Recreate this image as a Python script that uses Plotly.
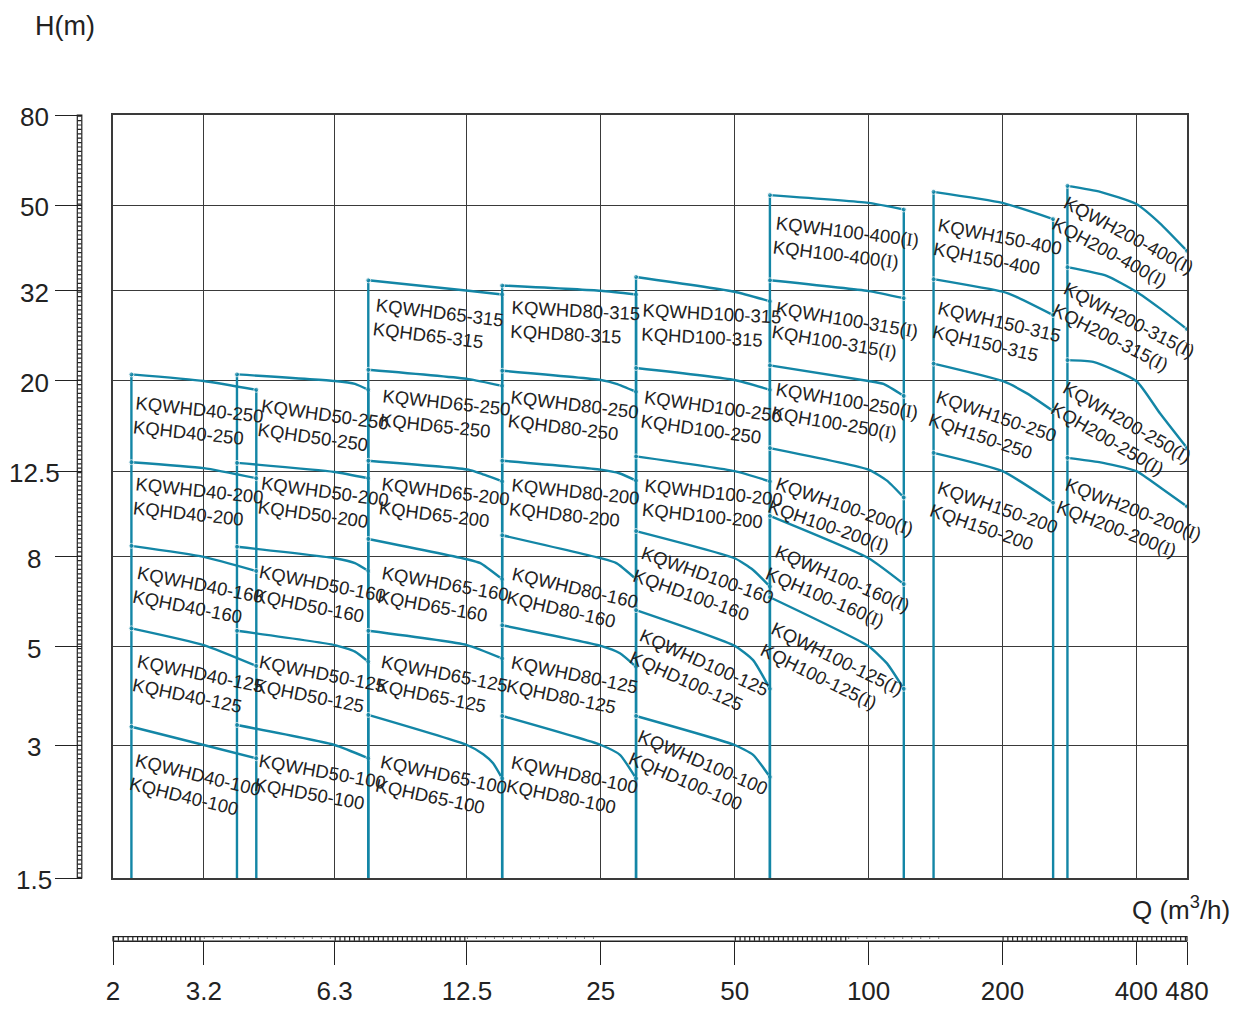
import math
import plotly.graph_objects as go

# ---------------- axis values ----------------
Q_MIN, Q_MAX = 2, 520          # right edge of the chart (labelled 480 on the reference)
H_MIN, H_MAX = 1.5, 80
Q_GRID = [3.2, 6.3, 12.5, 25, 50, 100, 200, 400]
H_GRID = [3, 5, 8, 12.5, 20, 32, 50]
Q_TICKS = [2, 3.2, 6.3, 12.5, 25, 50, 100, 200, 400, 520]
Q_TICKTEXT = ["2", "3.2", "6.3", "12.5", "25", "50", "100", "200", "400", "480"]
H_TICKS = [1.5, 3, 5, 8, 12.5, 20, 32, 50, 80]
H_TICKTEXT = ["1.5", "3", "5", "8", "12.5", "20", "32", "50", "80"]

# ---------------- performance curves (Q m3/h, H m) ----------------
# KQ(W)HD40
KQ40_250 = [(2.2, 20.7), (3.2, 20.0), (4.2, 19.1)]
KQ40_200 = [(2.2, 13.1), (3.2, 12.7), (4.2, 12.05)]
KQ40_160 = [(2.2, 8.47), (3.2, 8.0), (4.2, 7.43)]
KQ40_125 = [(2.2, 5.51), (3.2, 5.05), (4.2, 4.53)]
KQ40_100 = [(2.2, 3.30), (3.2, 3.0), (4.2, 2.80)]
# KQ(W)HD50
KQ50_250 = [(3.8, 20.7), (6.3, 20.0), (7.0, 19.7), (7.5, 19.1)]
KQ50_200 = [(3.8, 13.05), (6.3, 12.45), (7.5, 12.05)]
KQ50_160 = [(3.8, 8.43), (6.3, 7.94), (7.0, 7.74), (7.5, 7.43)]
KQ50_125 = [(3.8, 5.44), (6.3, 5.05), (7.0, 4.88), (7.5, 4.63)]
KQ50_100 = [(3.8, 3.33), (6.3, 3.0), (7.5, 2.80)]
# KQ(W)HD65
KQ65_315 = [(7.5, 33.8), (12.6, 32.0), (15, 31.4)]
KQ65_250 = [(7.5, 21.2), (12.6, 20.2), (15, 19.5)]
KQ65_200 = [(7.5, 13.2), (12.6, 12.6), (13.4, 12.35), (15, 11.85)]
KQ65_160 = [(7.5, 8.78), (12.5, 7.9), (13.4, 7.74), (15, 7.12)]
KQ65_125 = [(7.5, 5.44), (12.5, 5.05), (15, 4.71)]
KQ65_100 = [(7.5, 3.51), (12.5, 3.0), (13.6, 2.86), (14.3, 2.73), (15, 2.52)]
# KQ(W)HD80
KQ80_315 = [(15, 32.9), (25, 32.0), (30, 31.4)]
KQ80_250 = [(15, 21.1), (25, 20.1), (27.1, 19.7), (30, 18.9)]
KQ80_200 = [(15, 13.2), (25, 12.6), (27.6, 12.35), (30, 11.9)]
KQ80_160 = [(15, 8.95), (25, 7.94), (27.1, 7.74), (30, 7.12)]
KQ80_125 = [(15, 5.6), (25, 5.03), (27.6, 4.84), (30, 4.51)]
KQ80_100 = [(15, 3.49), (25, 3.0), (27.6, 2.85), (30, 2.52)]
# KQ(W)HD100
KQ100D_315 = [(30, 34.4), (50, 31.85), (60, 30.3)]
KQ100D_250 = [(30, 21.4), (50, 20.1), (60, 19.1)]
KQ100D_200 = [(30, 13.5), (50, 12.5), (60, 11.85)]
KQ100D_160 = [(30, 9.15), (50, 7.94), (55, 7.47), (60, 6.85)]
KQ100D_125 = [(30, 6.06), (50, 5.03), (55, 4.67), (60, 4.02)]
KQ100D_100 = [(30, 3.49), (50, 3.0), (55, 2.85), (60, 2.54)]
# KQ(W)H100 (I)
KQ100_400 = [(60, 52.7), (100, 50.6), (120, 48.9)]
KQ100_315 = [(60, 33.8), (100, 31.95), (120, 30.8)]
KQ100_250 = [(60, 21.7), (100, 20.0), (108, 19.7), (120, 18.5)]
KQ100_200 = [(60, 14.1), (100, 12.6), (110, 11.9), (120, 10.9)]
KQ100_160 = [(60, 9.9), (100, 7.94), (120, 6.94)]
KQ100_125 = [(60, 6.48), (100, 5.02), (110, 4.59), (120, 4.02)]
# KQ(W)H150
KQ150_400 = [(140, 53.6), (200, 50.6), (260, 46.5)]
KQ150_315 = [(140, 34.0), (200, 31.85), (215, 31.0), (260, 28.2)]
KQ150_250 = [(140, 21.9), (200, 20.0), (227, 18.75), (260, 17.1)]
KQ150_200 = [(140, 13.75), (200, 12.5), (260, 10.6)]
# KQ(W)H200 (I)
KQ200_400 = [(280, 55.3), (332, 53.6), (400, 50.3), (452, 45.5), (520, 39.4)]
KQ200_315 = [(280, 36.2), (343, 34.6), (400, 31.85), (452, 29.2), (520, 26.2)]
KQ200_250 = [(280, 22.3), (320, 22.1), (400, 20.0), (452, 16.9), (520, 14.1)]
KQ200_200 = [(280, 13.4), (330, 13.1), (400, 12.5), (457, 11.4), (520, 10.4)]

# (size, series key, "D" model?, roman (I)?, models, curves)
FAMILIES = [
    ("40", "40", True, False, ["250", "200", "160", "125", "100"],
     [KQ40_250, KQ40_200, KQ40_160, KQ40_125, KQ40_100]),
    ("50", "50", True, False, ["250", "200", "160", "125", "100"],
     [KQ50_250, KQ50_200, KQ50_160, KQ50_125, KQ50_100]),
    ("65", "65", True, False, ["315", "250", "200", "160", "125", "100"],
     [KQ65_315, KQ65_250, KQ65_200, KQ65_160, KQ65_125, KQ65_100]),
    ("80", "80", True, False, ["315", "250", "200", "160", "125", "100"],
     [KQ80_315, KQ80_250, KQ80_200, KQ80_160, KQ80_125, KQ80_100]),
    ("100", "100D", True, False, ["315", "250", "200", "160", "125", "100"],
     [KQ100D_315, KQ100D_250, KQ100D_200, KQ100D_160, KQ100D_125, KQ100D_100]),
    ("100", "100", False, True, ["400", "315", "250", "200", "160", "125"],
     [KQ100_400, KQ100_315, KQ100_250, KQ100_200, KQ100_160, KQ100_125]),
    ("150", "150", False, False, ["400", "315", "250", "200"],
     [KQ150_400, KQ150_315, KQ150_250, KQ150_200]),
    ("200", "200", False, True, ["400", "315", "250", "200"],
     [KQ200_400, KQ200_315, KQ200_250, KQ200_200]),
]

# ---------------- label placement (style): angle deg, dx px, dy px from curve start ----------------
LABEL_STYLE = {
    ("40", "250"): (6, 5, 21), ("40", "200"): (6, 5, 14), ("40", "160"): (11, 8, 19),
    ("40", "125"): (11.5, 8, 25), ("40", "100"): (13.5, 6, 26),
    ("50", "250"): (8, 26, 24), ("50", "200"): (7.7, 26, 13), ("50", "160"): (11, 24, 17),
    ("50", "125"): (11, 24, 23), ("50", "100"): (10, 24, 28),
    ("65", "315"): (7, 9, 17), ("65", "250"): (6, 15, 18), ("65", "200"): (7, 15, 15),
    ("65", "160"): (10, 15, 26), ("65", "125"): (11, 15, 23), ("65", "100"): (12, 15, 39),
    ("80", "315"): (3, 10, 14), ("80", "250"): (7, 10, 18), ("80", "200"): (6, 10, 17),
    ("80", "160"): (13, 12, 31), ("80", "125"): (11.5, 12, 29), ("80", "100"): (11.5, 12, 38),
    ("100D", "315"): (3, 7, 25), ("100D", "250"): (8, 10, 21), ("100D", "200"): (6, 10, 21),
    ("100D", "160"): (19.5, 9, 14), ("100D", "125"): (24, 9, 17), ("100D", "100"): (23, 7, 12),
    ("100", "400"): (7, 7, 20), ("100", "315"): (9.5, 8, 20), ("100", "250"): (9.5, 8, 16),
    ("100", "200"): (19, 10, 27), ("100", "160"): (23, 10, 27), ("100", "125"): (26, 7, 23),
    ("150", "400"): (11, 7, 25), ("150", "315"): (13, 7, 21), ("150", "250"): (18.7, 7, 25),
    ("150", "200"): (19, 8, 27),
    ("200", "400"): (28, 2, 9), ("200", "315"): (27, 2, 13), ("200", "250"): (30, 2, 20),
    ("200", "200"): (21, 2, 19),
}

# ---------------- styles / geometry ----------------
TEAL = "#1386a6"
INK = "#222222"
GRID = "#3a3a3a"
FONT = "Liberation Sans, Arial, sans-serif"
LABEL_FS = 18.5
TICK_FS = 26
PAGE_OFF = 8                      # default page margin around the figure
W, HGT = 1241 - 2 * PAGE_OFF, 1013 - 2 * PAGE_OFF
# layout measured in window pixels, converted to figure pixels
RULER_L, PLOT_L, PLOT_R, PLOT_T, PLOT_B, RULER_B = 82, 113, 1187, 115, 878, 941
ML = RULER_L - PAGE_OFF
MR = W - (PLOT_R - PAGE_OFF)
MT = PLOT_T - PAGE_OFF
MB = HGT - (RULER_B - PAGE_OFF)
PW, PH = W - ML - MR, HGT - MT - MB
X_DOM0 = (PLOT_L - RULER_L) / PW
Y_DOM0 = (RULER_B - PLOT_B) / PH


def px_paper_x(px):   # window pixel -> paper fraction
    return (px - RULER_L) / PW


def px_paper_y(py):
    return (RULER_B - py) / PH


def label_text(size, is_d, roman, model):
    r = "(<span style='font-family:Liberation Serif'>I</span>)" if roman else ""
    if is_d:
        return f"KQWHD{size}-{model}{r}<br>KQHD{size}-{model}{r}"
    return f"KQWH{size}-{model}{r}<br>KQH{size}-{model}{r}"


fig = go.Figure()
annotations = []
box_h = 2.45 * LABEL_FS

for size, key, is_d, roman, models, curves in FAMILIES:
    top = curves[0]
    verts = [top[0]]
    if key != "200":
        verts.append(top[-1])
    for q, h in verts:
        fig.add_trace(go.Scatter(x=[q, q], y=[h, H_MIN], mode="lines",
                                 line=dict(color=TEAL, width=2.4),
                                 hoverinfo="skip", showlegend=False))
    for model, pts in zip(models, curves):
        qs = [p[0] for p in pts]
        hs = [p[1] for p in pts]
        sizes = [5] + [0] * (len(pts) - 2) + [5]
        fig.add_trace(go.Scatter(x=qs, y=hs, mode="lines+markers",
                                 line=dict(color=TEAL, width=2.4, shape="spline", smoothing=0.5),
                                 marker=dict(color=TEAL, size=sizes),
                                 name=f"{size}-{model}", showlegend=False))
        ang, dx, dy = LABEL_STYLE[(key, model)]
        th = math.radians(ang)
        annotations.append(dict(
            x=math.log10(qs[0]), y=math.log10(hs[0]), xref="x", yref="y",
            text=label_text(size, is_d, roman, model), showarrow=False,
            xanchor="left", yanchor="top", align="left", textangle=ang,
            xshift=dx - 1 - box_h * math.sin(th), yshift=-(dy - 4),
            borderpad=0, font=dict(family=FONT, size=LABEL_FS, color=INK)))

# dummy trace so the outer ruler axes are drawn
fig.add_trace(go.Scatter(x=[], y=[], xaxis="x2", yaxis="y2", showlegend=False))

# H tick labels (centred in the left gutter, at their axis values)
for hv, ht in zip(H_TICKS, H_TICKTEXT):
    annotations.append(dict(x=px_paper_x(34), y=math.log10(hv), xref="paper", yref="y",
                            text=ht, showarrow=False, xanchor="center", yanchor="middle",
                            yshift=-2, font=dict(family=FONT, size=TICK_FS, color=INK)))

# axis titles
annotations.append(dict(x=px_paper_x(65), y=px_paper_y(26), xref="paper", yref="paper",
                        text="H(m)", showarrow=False, xanchor="center", yanchor="middle",
                        font=dict(family=FONT, size=27, color=INK)))
annotations.append(dict(x=px_paper_x(1232), y=px_paper_y(908), xref="paper", yref="paper",
                        text="Q (m<sup>3</sup>/h)", showarrow=False, xanchor="right", yanchor="middle",
                        font=dict(family=FONT, size=26, color=INK)))


def q_to_paper(q):
    f = (math.log10(q) - math.log10(Q_MIN)) / (math.log10(Q_MAX) - math.log10(Q_MIN))
    return X_DOM0 + f * (1 - X_DOM0)


shapes = []
# left ruler (double line with rungs)
lx0, lx1 = px_paper_x(77.3), px_paper_x(81.8)
shapes.append(dict(type="rect", xref="paper", yref="paper", x0=lx0, x1=lx1, y0=Y_DOM0, y1=1,
                   line=dict(color=INK, width=1.2)))
shapes.append(dict(type="line", xref="paper", yref="paper", x0=(lx0 + lx1) / 2, x1=(lx0 + lx1) / 2,
                   y0=Y_DOM0, y1=1, line=dict(color=INK, width=4, dash="1.2px,3.2px")))
# bottom ruler
by1 = 4.3 / PH
shapes.append(dict(type="rect", xref="paper", yref="paper", x0=X_DOM0, x1=1, y0=0, y1=by1,
                   line=dict(color=INK, width=1.2)))
RULER_LADDER = [(2, 3.2), (6.3, 12.5), (50, 90), (200, 520)]
RULER_DOTS = [(3.2, 6.3), (12.5, 25), (90, 150)]
for a, b in RULER_LADDER:
    shapes.append(dict(type="line", xref="paper", yref="paper", x0=q_to_paper(a), x1=q_to_paper(b),
                       y0=by1 / 2, y1=by1 / 2, line=dict(color=INK, width=4, dash="1.2px,3.6px")))
for a, b in RULER_DOTS:
    shapes.append(dict(type="line", xref="paper", yref="paper", x0=q_to_paper(a), x1=q_to_paper(b),
                       y0=by1 * 0.7, y1=by1 * 0.7, line=dict(color="#777", width=2, dash="1px,8px")))

fig.update_layout(
    width=W, height=HGT, autosize=False,
    margin=dict(l=ML, r=MR, t=MT, b=MB, pad=0, autoexpand=False),
    paper_bgcolor="white", plot_bgcolor="white",
    showlegend=False,
    font=dict(family=FONT, color=INK),
    xaxis=dict(type="log", range=[math.log10(Q_MIN), math.log10(Q_MAX)], domain=[X_DOM0, 1],
               anchor="y", tickvals=Q_GRID, showticklabels=False, ticks="", automargin=False,
               showgrid=True, gridcolor=GRID, gridwidth=1.3, zeroline=False,
               showline=True, mirror=True, linecolor=GRID, linewidth=1.6),
    yaxis=dict(type="log", range=[math.log10(H_MIN), math.log10(H_MAX)], domain=[Y_DOM0, 1],
               anchor="x", tickvals=H_GRID, showticklabels=False, ticks="", automargin=False,
               showgrid=True, gridcolor=GRID, gridwidth=1.3, zeroline=False,
               showline=True, mirror=True, linecolor=GRID, linewidth=1.6),
    xaxis2=dict(type="log", range=[math.log10(Q_MIN), math.log10(Q_MAX)], overlaying="x",
                anchor="free", position=0, side="bottom", automargin=False,
                tickvals=Q_TICKS, ticktext=Q_TICKTEXT, ticks="outside", ticklen=23,
                tickwidth=1.3, tickcolor=INK, showline=True, linecolor=INK, linewidth=1.2,
                showgrid=False, zeroline=False, ticklabelstandoff=4,
                tickfont=dict(family=FONT, size=TICK_FS, color=INK)),
    yaxis2=dict(type="log", range=[math.log10(H_MIN), math.log10(H_MAX)], overlaying="y",
                anchor="free", position=0, side="left", automargin=False,
                tickvals=H_TICKS, showticklabels=False, ticks="outside", ticklen=27,
                tickwidth=1.3, tickcolor=INK, showline=False,
                showgrid=False, zeroline=False),
    annotations=annotations,
    shapes=shapes,
)

fig.write_html("out.html")
